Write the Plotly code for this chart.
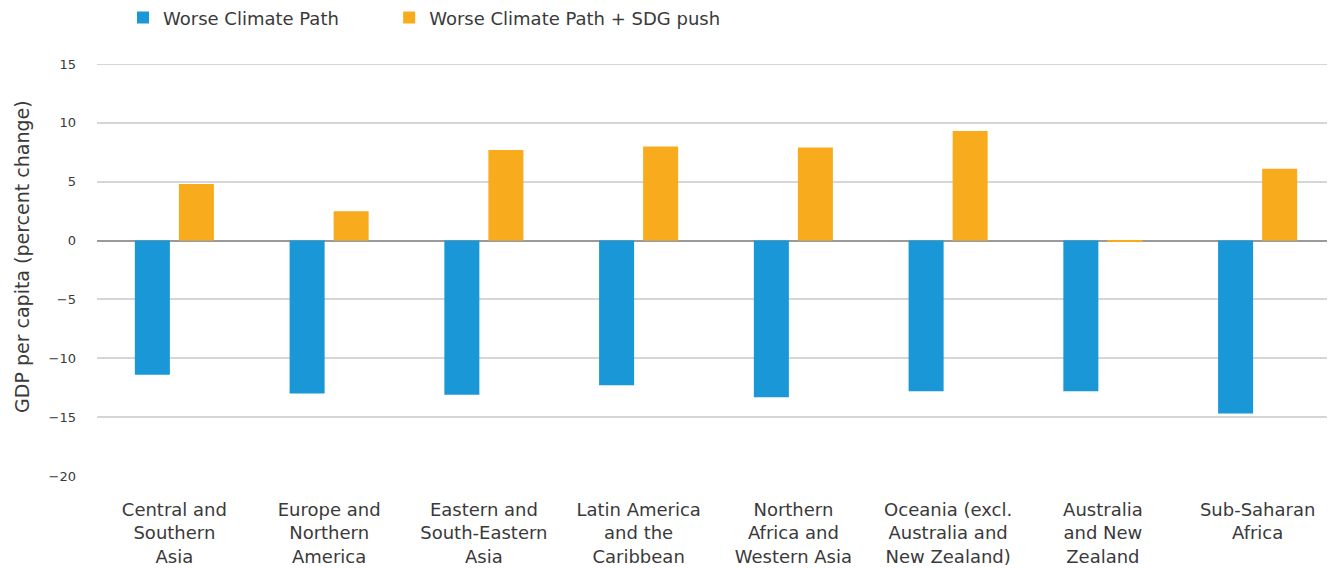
import plotly.graph_objects as go

categories = [
    "Central and<br>Southern<br>Asia",
    "Europe and<br>Northern<br>America",
    "Eastern and<br>South-Eastern<br>Asia",
    "Latin America<br>and the<br>Caribbean",
    "Northern<br>Africa and<br>Western Asia",
    "Oceania (excl.<br>Australia and<br>New Zealand)",
    "Australia<br>and New<br>Zealand",
    "Sub-Saharan<br>Africa",
]
worse_climate = [-11.4, -13.0, -13.1, -12.3, -13.3, -12.8, -12.8, -14.7]
worse_climate_sdg = [4.8, 2.5, 7.7, 8.0, 7.9, 9.3, -0.1, 6.1]
y_ticks = [-20, -15, -10, -5, 0, 5, 10, 15]

FONT = "DejaVu Sans"
TEXT = "#3a3a3a"

fig = go.Figure()
fig.add_trace(go.Bar(x=categories, y=worse_climate, name="Worse Climate Path",
                     marker=dict(color="#1997d6", line=dict(width=0)), legend="legend"))
fig.add_trace(go.Bar(x=categories, y=worse_climate_sdg, name="Worse Climate Path + SDG push",
                     marker=dict(color="#f9ab1e", line=dict(width=0)), legend="legend2"))

# darker gridlines above zero
for v in y_ticks:
    if v > 0:
        fig.add_shape(type="line", xref="paper", x0=0, x1=1, yref="y", y0=v, y1=v,
                      line=dict(color="#a9a9a9", width=1.2), layer="below")

fig.add_annotation(text="GDP per capita (percent change)", textangle=-90,
                   xref="paper", yref="paper", x=-0.0606, y=0.534,
                   xanchor="center", yanchor="middle", showarrow=False,
                   font=dict(size=19, color=TEXT))

legend_common = dict(orientation="h", y=1.112, yanchor="middle", xanchor="left",
                     font=dict(size=18, color=TEXT), itemwidth=30)

fig.update_layout(
    width=1327, height=561,
    paper_bgcolor="white", plot_bgcolor="white",
    margin=dict(l=89, r=0, t=56, b=93, autoexpand=False),
    barmode="group", bargap=0.431, bargroupgap=0.2045,
    font=dict(family=FONT, color=TEXT),
    showlegend=True,
    legend=dict(x=0.021, **legend_common),
    legend2=dict(x=0.236, **legend_common),
    xaxis=dict(showgrid=False, showline=False, ticks="", tickfont=dict(size=18, color=TEXT),
               tickangle=0, ticklabelstandoff=21),
    yaxis=dict(range=[-20, 15], tickvals=y_ticks, showgrid=True, gridcolor="#d6d6d6",
               gridwidth=1.5, zeroline=True, zerolinecolor="#9a9a9a", zerolinewidth=2,
               tickfont=dict(size=13, color=TEXT), ticks="", ticklabelstandoff=20),
)

fig.write_html("out.html")
